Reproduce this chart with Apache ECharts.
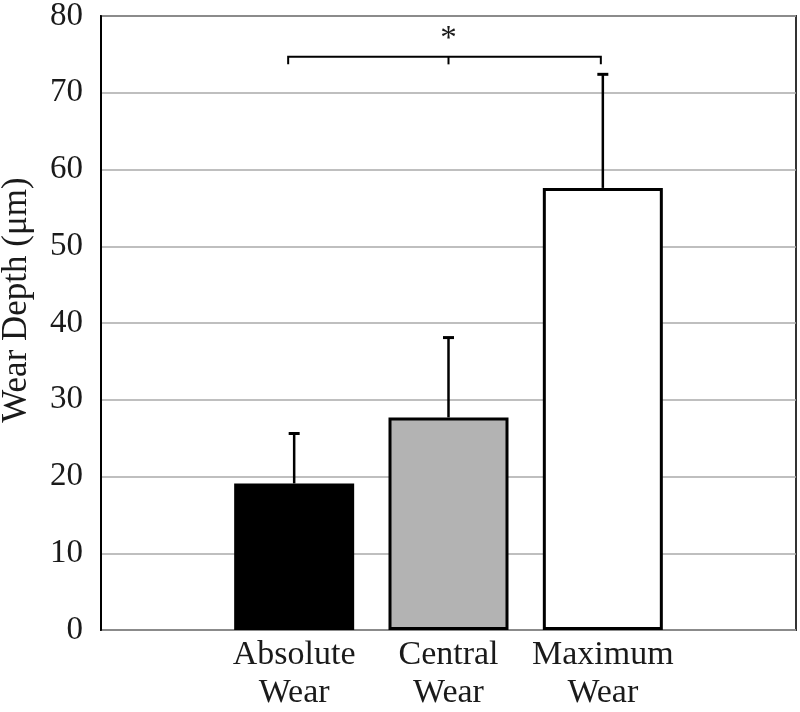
<!DOCTYPE html>
<html><head><meta charset="utf-8">
<script src="https://cdn.jsdelivr.net/npm/echarts@6/dist/echarts.min.js"></script>
<style>html,body{margin:0;padding:0;background:#fff}#c{width:800px;height:712px}</style>
</head><body><div id="c"></div>
<script>
const categories = ['Absolute\nWear', 'Central\nWear', 'Maximum\nWear'];
const meanValues = [19.1, 27.7, 57.6];
const sdValues = [6.5, 10.4, 14.8];
const barColors = ['#000000', '#b3b3b3', '#ffffff'];
const yMin = 0, yMax = 80, yInterval = 10;
const bracketFrom = 0, bracketTo = 2, bracketMid = 1;
const bracketY = 74.7, bracketDrop = 1.0;
const starLabel = '*', starY = 77.0;

const FONT = 'Liberation Serif, Times New Roman, serif';
const chart = echarts.init(document.getElementById('c'));

const barData = meanValues.map((v, i) => ({
  value: v,
  itemStyle: { color: barColors[i], borderColor: '#000', borderWidth: 3 }
}));
const errData = meanValues.map((v, i) => [i, v, v + sdValues[i]]);

chart.setOption({
  animation: false,
  backgroundColor: '#fff',
  grid: [
    { left: 101, right: 4, top: 16, bottom: 82, show: true, borderColor: '#333', borderWidth: 2, backgroundColor: 'transparent', containLabel: false, outerBoundsMode: 'none' },
    { left: 217, right: 120, top: 16, bottom: 82, containLabel: false, outerBoundsMode: 'none' }
  ],
  xAxis: [
    { gridIndex: 0, type: 'value', min: 0, max: 1, show: false },
    {
      gridIndex: 1, type: 'category', data: categories,
      axisLine: { show: false }, axisTick: { show: false },
      axisLabel: { fontFamily: FONT, fontSize: 34, color: '#1a1a1a', lineHeight: 38, margin: 6, interval: 0 }
    }
  ],
  yAxis: [
    {
      gridIndex: 0, type: 'value', min: yMin, max: yMax, interval: yInterval,
      axisLine: { show: true, lineStyle: { color: '#000', width: 2 } },
      axisTick: { show: false },
      splitLine: { show: true, lineStyle: { color: '#aaaaaa', width: 1.5 } },
      axisLabel: { fontFamily: FONT, fontSize: 33, color: '#1a1a1a', margin: 18 },
      name: 'Wear Depth (μm)', nameLocation: 'middle', nameGap: 67, nameRotate: 90,
      nameTextStyle: { fontFamily: FONT, fontSize: 35, color: '#1a1a1a', padding: [0, 0, 0, 46] }
    },
    { gridIndex: 1, type: 'value', min: yMin, max: yMax, interval: yInterval, show: false }
  ],
  series: [
    {
      type: 'bar', xAxisIndex: 1, yAxisIndex: 1, data: barData, barWidth: 120, z: 2
    },
    {
      type: 'custom', xAxisIndex: 1, yAxisIndex: 1, data: errData, z: 3,
      renderItem: function (params, api) {
        const p0 = api.coord([api.value(0), api.value(1)]);
        const p1 = api.coord([api.value(0), api.value(2)]);
        const half = 5.5;
        return {
          type: 'group',
          children: [
            { type: 'line', shape: { x1: p0[0], y1: p0[1], x2: p1[0], y2: p1[1] }, style: { stroke: '#000', lineWidth: 2.5 } },
            { type: 'line', shape: { x1: p1[0] - half, y1: p1[1], x2: p1[0] + half, y2: p1[1] }, style: { stroke: '#000', lineWidth: 3 } }
          ]
        };
      }
    },
    {
      type: 'custom', xAxisIndex: 1, yAxisIndex: 1, z: 4,
      data: [[bracketFrom, bracketTo, bracketMid, bracketY, bracketDrop, starY]],
      renderItem: function (params, api) {
        const y = api.value(3), d = api.value(4);
        const a = api.coord([api.value(0), y]);
        const b = api.coord([api.value(1), y]);
        const m = api.coord([api.value(2), y]);
        const aD = api.coord([api.value(0), y - d]);
        const mD = api.coord([api.value(2), y - d]);
        const s = api.coord([api.value(2), api.value(5)]);
        return {
          type: 'group',
          children: [
            { type: 'polyline', shape: { points: [[aD[0] - 6, aD[1]], [a[0] - 6, a[1]], [b[0] - 2, b[1]], [b[0] - 2, aD[1]]] }, style: { stroke: '#000', lineWidth: 2, fill: null } },
            { type: 'line', shape: { x1: m[0], y1: m[1], x2: mD[0], y2: mD[1] }, style: { stroke: '#000', lineWidth: 2 } },
            { type: 'text', x: s[0], y: s[1], style: { text: starLabel, font: '33px ' + FONT, fill: '#1a1a1a', align: 'center', verticalAlign: 'middle' } }
          ]
        };
      }
    }
  ]
});
</script>
</body></html>
